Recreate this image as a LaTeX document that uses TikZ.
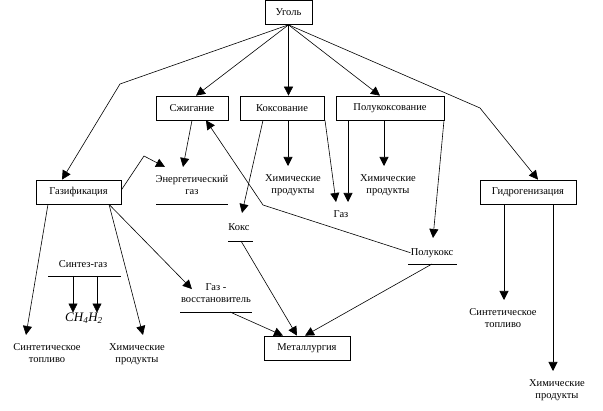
\documentclass[tikz,border=0pt]{standalone}
\usepackage{fontspec}
\setmainfont{Liberation Serif}
\usetikzlibrary{arrows.meta,calc}
\begin{document}
\begin{tikzpicture}[x=1pt,y=-1pt,
  every node/.style={font=\fontsize{10.5}{12.5}\selectfont},
  box/.style={draw, line width=0.7pt, minimum height=24pt, inner sep=0pt},
  lbl/.style={align=center, inner xsep=0pt, inner ysep=8pt, anchor=north},
  arr/.style={line width=0.6pt, -{Triangle[length=9pt,width=9pt]}},
  ul/.style={line width=0.7pt}]
\useasboundingbox (0,0) rectangle (603,411);
% boxes
\node[box, minimum width=47pt] (coal) at (288.5,12.5) {Уголь};
\node[box, minimum width=72pt] (sj) at (192,108) {Сжигание};
\node[box, minimum width=84pt] (koks) at (282,108) {Коксование};
\node[box, minimum width=108pt] (polu) at (390,108) {Полукоксование};
\node[box, minimum width=85pt] (gaz) at (78.5,192) {Газификация};
\node[box, minimum width=96pt] (gidro) at (528,192) {Гидрогенизация};
\node[box, minimum width=86pt] (met) at (307,348) {Металлургия};
% labels
\node[lbl] (energ) at (192,167) {Энергетический\\газ};
\node[lbl] (chem1) at (293,166) {Химические\\продукты};
\node[lbl] (gasL) at (341,202) {Газ};
\node[lbl] (chem2) at (388,166) {Химические\\продукты};
\node[lbl, inner ysep=10pt] (koksL) at (239,213) {Кокс};
\node[lbl, inner ysep=10pt] (polL) at (432,238) {Полукокс};
\node[lbl, anchor=center, inner ysep=0pt] (syn) at (83,264) {Синтез-газ};
\node[lbl, anchor=center, inner ysep=0pt, font=\fontsize{13}{15}\selectfont\itshape] (ch4) at (84,318) {CH\textsubscript{4}H\textsubscript{2}};
\node[lbl] (fuel1) at (47,335) {Синтетическое\\топливо};
\node[lbl] (chem3) at (137,335) {Химические\\продукты};
\node[lbl, anchor=center, inner ysep=0pt] (redgas) at (216,293) {Газ -\\восстановитель};
\node[lbl] (fuel2) at (503,300) {Синтетическое\\топливо};
\node[lbl] (chem4) at (557,371) {Химические\\продукты};
% underlines
\draw[ul] (156,204) -- (228,204);
\draw[ul] (228,241) -- (253,241);
\draw[ul] (408,264) -- (457,264);
\draw[ul] (48,276) -- (121,276);
\draw[ul] (180,312) -- (252,312);
\coordinate (kU) at (241,241);
\coordinate (pU) at (432,264);
\coordinate (s1) at (73,276);
\coordinate (s2) at (97,276);
\coordinate (rU) at (230,312);
% bends
\coordinate (b1) at (120,84);
\coordinate (b2) at (480,108);
\coordinate (b3) at (144,156);
\coordinate (b4) at (263,205);
% connectors
\draw[arr] (coal.south) -- (b1) -- ([xshift=-16.5pt]gaz.north);
\draw[arr] (coal.south) -- ([xshift=4pt]sj.north);
\draw[arr] (coal.south) -- (coal.south |- koks.north);
\draw[arr] (coal.south) -- ([xshift=-10pt]polu.north);
\draw[arr] (coal.south) -- (b2) -- ([xshift=10pt]gidro.north);
\draw[arr] (sj.south) -- ([xshift=-9pt]energ.north);
\draw[arr] ([yshift=2pt]gaz.east) -- (b3) -- ([xshift=-27pt]energ.north);
\draw[arr] ([xshift=-19pt]koks.south) -- ([xshift=3pt]koksL.north);
\draw[arr] ([xshift=6pt]koks.south) -- ([xshift=-5pt]chem1.north);
\draw[arr] ([xshift=43pt]koks.south) -- ([xshift=-5pt]gasL.north);
\draw[arr] ([xshift=-42pt]polu.south) -- ([xshift=7pt]gasL.north);
\draw[arr] ([xshift=-6pt]polu.south) -- ([xshift=-4pt]chem2.north);
\draw[arr] ([xshift=54pt]polu.south) -- ([xshift=1pt]polL.north);
\draw[arr] (polL.west) -- (b4) -- ([xshift=14pt]sj.south);
\draw[arr] (rU) -- ([xshift=-24pt]met.north);
\draw[arr] (kU) -- ([xshift=-10pt]met.north);
\draw[arr] (pU) -- ([xshift=-2pt]met.north);
\draw[arr] ([xshift=-30.5pt]gaz.south) -- ([xshift=-21pt]fuel1.north);
\draw[arr] ([xshift=30.5pt]gaz.south) -- ([xshift=6pt]chem3.north);
\draw[arr] ([xshift=30.5pt]gaz.south) -- ([xshift=11pt,yshift=-6pt]redgas.north west);
\draw[arr] ([xshift=-24pt]gidro.south) -- ([xshift=1pt]fuel2.north);
\draw[arr] ([xshift=25pt]gidro.south) -- ([xshift=-4pt]chem4.north);
\draw[arr] (s1) -- (s1 |- ch4.north);
\draw[arr] (s2) -- (s2 |- ch4.north);
\end{tikzpicture}
\end{document}
